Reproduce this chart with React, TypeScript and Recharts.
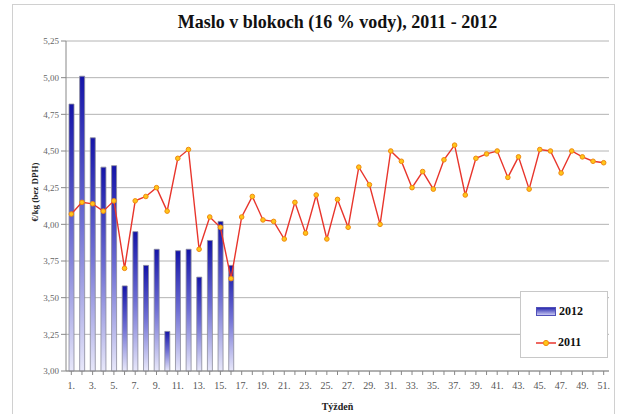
import React from 'react';
import {
    ComposedChart, Bar, Line, XAxis, YAxis, CartesianGrid
} from 'recharts';

// týždne 1..51
const weeks = Array.from({ length: 51 }, (_, i) => i + 1);

// cena 2012 (€/kg bez DPH), len prvých 16 týždňov
const prices2012 = [
    4.82, 5.01, 4.59, 4.39, 4.40, 3.58, 3.95, 3.72, 3.83, 3.27,
    3.82, 3.83, 3.64, 3.89, 4.02, 3.72,
];

// cena 2011
const prices2011 = [
    4.07, 4.15, 4.14, 4.09, 4.16, 3.70, 4.16, 4.19, 4.25, 4.09,
    4.45, 4.51, 3.83, 4.05, 3.98, 3.63, 4.05, 4.19, 4.03, 4.02,
    3.90, 4.15, 3.94, 4.20, 3.90, 4.17, 3.98, 4.39, 4.27, 4.00,
    4.50, 4.43, 4.25, 4.36, 4.24, 4.44, 4.54, 4.20, 4.45, 4.48,
    4.50, 4.32, 4.46, 4.24, 4.51, 4.50, 4.35, 4.50, 4.46, 4.43,
    4.42,
];

const yTicks = [3.0, 3.25, 3.5, 3.75, 4.0, 4.25, 4.5, 4.75, 5.0, 5.25];

const data = weeks.map((w, i) => ({
    week: w,
    y2012: i < prices2012.length ? prices2012[i] : null,
    y2011: prices2011[i],
}));

const SERIF = '"Liberation Serif", "Times New Roman", serif';

const fmtComma = (v: number) => v.toFixed(2).replace('.', ',');

export default function App() {
    return (
        <div style={{ position: 'absolute', left: 0, top: 0, width: 618, height: 414, background: '#fff', fontFamily: SERIF }}>
            {/* rám grafu */}
            <div style={{ position: 'absolute', left: 12, top: 4, width: 601, height: 420, border: '1px solid #d0d0d0' }} />

            <ComposedChart
                width={618}
                height={414}
                data={data}
                margin={{ top: 41, right: 9, bottom: 13, left: 0 }}
                style={{ position: 'absolute', left: 0, top: 0, fontFamily: SERIF }}
            >
                <defs>
                    <linearGradient id="barGrad" x1="0" y1="0" x2="0" y2="1">
                        <stop offset="0%" stopColor="#1414a8" />
                        <stop offset="50%" stopColor="#7070d4" />
                        <stop offset="100%" stopColor="#e8e8fa" />
                    </linearGradient>
                </defs>
                <CartesianGrid vertical={false} stroke="#b4b4b4" />
                <XAxis
                    dataKey="week"
                    interval={0}
                    height={30}
                    tickLine={{ stroke: '#888' }}
                    tickSize={4}
                    tickMargin={7}
                    axisLine={{ stroke: '#888' }}
                    tick={{ fontSize: 10, fill: '#555', fontFamily: SERIF }}
                    tickFormatter={(v: number) => (v % 2 === 1 ? `${v}.` : '')}
                />
                <YAxis
                    domain={[3, 5.25]}
                    ticks={yTicks}
                    width={66}
                    interval={0}
                    tickSize={5}
                    tickLine={{ stroke: '#888' }}
                    axisLine={{ stroke: '#888' }}
                    tick={{ fontSize: 9, fill: '#666', fontFamily: SERIF }}
                    tickFormatter={fmtComma}
                />
                <YAxis
                    yAxisId="right"
                    orientation="right"
                    width={0}
                    tick={false}
                    tickLine={false}
                    axisLine={{ stroke: '#b4b4b4' }}
                />
                <Bar
                    dataKey="y2012"
                    barSize={5}
                    fill="url(#barGrad)"
                    stroke="#8a8a9a"
                    strokeWidth={0.8}
                    isAnimationActive={false}
                />
                <Line
                    dataKey="y2011"
                    stroke="#e8352c"
                    strokeWidth={1.4}
                    dot={{ r: 2.3, fill: '#ffc61a', stroke: '#f08a10', strokeWidth: 1 }}
                    isAnimationActive={false}
                />
            </ComposedChart>

            {/* nadpis */}
            <div style={{ position: 'absolute', left: 66, width: 543, top: 12, textAlign: 'center', fontSize: 18, fontWeight: 'bold', color: '#111' }}>
                Maslo v blokoch (16 % vody), 2011 - 2012
            </div>

            {/* popis osi Y */}
            <div style={{
                position: 'absolute', left: 35, top: 192, width: 0, height: 0,
            }}>
                <div style={{
                    position: 'absolute', transform: 'translate(-50%, -50%) rotate(-90deg)', whiteSpace: 'nowrap',
                    fontSize: 9, fontWeight: 'bold', color: '#222',
                }}>
                    €/kg (bez DPH)
                </div>
            </div>

            {/* popis osi X */}
            <div style={{ position: 'absolute', left: 66, width: 543, top: 401, textAlign: 'center', fontSize: 10, fontWeight: 'bold', color: '#222' }}>
                Týždeň
            </div>

            {/* legenda */}
            <div style={{ position: 'absolute', left: 520, top: 291, width: 86, height: 65, border: '1px solid #c8c8c8', background: '#fff' }}>
                <div style={{ position: 'absolute', left: 15, top: 12, display: 'flex', alignItems: 'center' }}>
                    <span style={{ display: 'inline-block', width: 18, height: 7, background: 'linear-gradient(#2a2ab0, #c8c8f2)', border: '1px solid #5050b8', marginRight: 3 }} />
                    <span style={{ fontSize: 12, fontWeight: 'bold', color: '#111' }}>2012</span>
                </div>
                <div style={{ position: 'absolute', left: 15, top: 43, display: 'flex', alignItems: 'center' }}>
                    <svg width={20} height={10} style={{ marginRight: 2 }}>
                        <line x1={0} y1={5} x2={20} y2={5} stroke="#e8352c" strokeWidth={1.5} />
                        <circle cx={10} cy={5} r={2.6} fill="#ffc61a" stroke="#f08a10" strokeWidth={1} />
                    </svg>
                    <span style={{ fontSize: 12, fontWeight: 'bold', color: '#111' }}>2011</span>
                </div>
            </div>
        </div>
    );
}
